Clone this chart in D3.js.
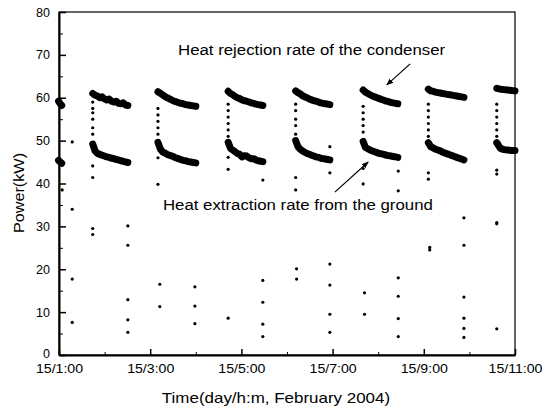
<!DOCTYPE html>
<html>
<head>
<meta charset="utf-8">
<script src="https://cdn.jsdelivr.net/npm/d3@7"></script>
<style>
  body { margin: 0; background: #fff; }
  svg { display: block; font-family: "Liberation Sans", Arial, sans-serif; }
</style>
</head>
<body>
<div id="chart"></div>
<script>
// operating cycles of the heat pump (hours of 15 Feb 2004)
var cycleStart = [0.99, 1.74, 3.17, 4.71, 6.19, 7.67, 9.10, 10.60];
var cycleEnd   = [1.06, 2.51, 4.00, 5.47, 6.94, 8.43, 9.88, 11.00];

// heat rejection rate of the condenser, kW, evenly sampled inside each cycle
var condenser = [
  [59.2, 58.6, 58.2],
  [61.0, 60.6, 60.4, 60.0, 60.2, 59.7, 59.5, 59.7, 59.2, 59.0, 59.2, 58.7, 58.6, 58.8, 58.3, 58.2],
  [61.4, 61.0, 60.6, 60.2, 59.9, 59.6, 59.3, 59.1, 58.9, 58.7, 58.6, 58.4, 58.3, 58.2, 58.1, 58.0],
  [61.5, 61.0, 60.7, 60.3, 60.0, 59.8, 59.5, 59.3, 59.2, 59.0, 58.8, 58.7, 58.5, 58.4, 58.3, 58.2],
  [61.6, 61.2, 60.9, 60.5, 60.2, 60.0, 59.7, 59.5, 59.3, 59.2, 59.0, 58.8, 58.7, 58.6, 58.5, 58.4],
  [61.8, 61.3, 61.0, 60.7, 60.4, 60.2, 60.0, 59.8, 59.6, 59.4, 59.2, 59.1, 58.9, 58.8, 58.7, 58.6],
  [62.0, 61.6, 61.5, 61.3, 61.2, 61.1, 61.0, 60.9, 60.8, 60.7, 60.6, 60.5, 60.4, 60.3, 60.2, 60.1],
  [62.2, 62.0, 61.9, 61.8, 61.7, 61.6]
];

// heat extraction rate from the ground, kW
var ground = [
  [45.4, 45.0, 44.7],
  [49.2, 47.6, 47.0, 46.8, 46.6, 46.4, 46.2, 46.1, 45.9, 45.8, 45.6, 45.5, 45.3, 45.2, 45.0, 44.9],
  [49.6, 48.0, 47.3, 47.0, 46.7, 46.5, 46.3, 46.0, 45.8, 45.6, 45.4, 45.3, 45.1, 45.0, 44.9, 44.8],
  [49.6, 48.2, 47.8, 47.4, 47.0, 46.8, 46.2, 46.5, 46.4, 46.0, 45.8, 45.8, 45.5, 45.3, 45.2, 45.1],
  [50.0, 48.6, 48.0, 47.6, 47.3, 47.0, 46.8, 46.6, 46.4, 46.2, 46.1, 45.9, 45.8, 45.7, 45.6, 45.5],
  [49.8, 48.4, 48.1, 47.8, 47.6, 47.4, 47.2, 47.0, 46.9, 46.8, 46.6, 46.5, 46.4, 46.3, 46.2, 46.1],
  [49.5, 48.6, 48.3, 48.0, 47.8, 47.6, 47.3, 47.1, 46.9, 46.7, 46.5, 46.3, 46.1, 45.9, 45.7, 45.5],
  [49.5, 48.2, 47.9, 47.8, 47.7, 47.7]
];

// start-up samples at the beginning of each cycle
var riseValues = [
  [],
  [51.5, 53.0, 55.0, 56.5, 57.5, 59.0, 44.1, 41.4],
  [51.5, 53.0, 54.5, 56.0, 57.5, 46.0, 39.8],
  [51.0, 52.5, 54.0, 55.5, 57.0, 58.5, 46.1, 43.3],
  [51.5, 53.5, 55.0, 57.0, 58.5, 41.4, 38.5],
  [52.0, 53.5, 55.0, 56.5, 58.0, 43.5, 39.9],
  [51.0, 52.5, 54.0, 55.5, 57.0, 58.5, 42.5, 41.0],
  [51.0, 52.5, 54.0, 55.5, 57.0, 58.5, 43.1, 42.2]
];

// isolated samples while the pump is off
var offTimes = [1.07, 1.29, 1.74, 2.51, 3.21, 3.98, 4.71, 5.47, 6.21, 6.94, 7.70, 8.44, 9.13, 9.88, 10.60];
var offValues = [
  [38.5],
  [49.7, 34.0, 17.7, 7.6],
  [29.5, 28.1],
  [30.1, 25.6, 12.9, 8.2, 5.3],
  [16.5, 11.3],
  [15.9, 11.4, 7.3],
  [8.6],
  [40.8, 17.4, 12.3, 7.2, 4.3],
  [20.1, 17.7],
  [48.6, 42.5, 21.2, 16.3, 9.5, 5.3],
  [14.5, 9.5],
  [42.9, 38.3, 18.0, 13.7, 8.5, 4.3],
  [25.1, 24.5],
  [32.0, 25.6, 13.5, 8.6, 6.2, 4.1],
  [30.9, 30.6, 6.1]
];

var majorHours = [1, 3, 5, 7, 9, 11];
var minorHours = [2, 4, 6, 8, 10];
var yMajor = [0, 10, 20, 30, 40, 50, 60, 70, 80];
var yMinor = [5, 15, 25, 35, 45, 55, 65, 75];

var width = 554, height = 409;
var margin = {top: 12, right: 39, bottom: 54, left: 59};
var w = width - margin.left - margin.right;
var h = height - margin.top - margin.bottom;

var svg = d3.select("#chart").append("svg")
  .attr("width", width)
  .attr("height", height);

// the scanned lettering is wider than Arial, stretch it a bit
function widen(sel, f) {
  sel.each(function() {
    var len = this.getComputedTextLength();
    d3.select(this)
      .attr("textLength", len * f)
      .attr("lengthAdjust", "spacingAndGlyphs");
  });
}

var defs = svg.append("defs");
defs.append("marker")
  .attr("id", "arrow")
  .attr("viewBox", "0 0 10 10")
  .attr("refX", 9).attr("refY", 5)
  .attr("markerWidth", 7).attr("markerHeight", 7)
  .attr("markerUnits", "userSpaceOnUse")
  .attr("orient", "auto")
  .append("path")
  .attr("d", "M0,1L10,5L0,9z")
  .attr("fill", "#000");

var g = svg.append("g")
  .attr("transform", "translate(" + margin.left + "," + margin.top + ")");

var x = d3.scaleLinear().domain([1, 11]).range([0, w]);
var y = d3.scaleLinear().domain([0, 80]).range([h, 0]);

// frame
g.append("rect")
  .attr("width", w).attr("height", h)
  .attr("fill", "none")
  .attr("stroke", "#000")
  .attr("stroke-width", 1.2);

// bottom axis: inward ticks
var xAxis = g.append("g")
  .attr("transform", "translate(0," + h + ")")
  .call(d3.axisBottom(x).tickValues(majorHours).tickSizeInner(-6).tickSizeOuter(0).tickPadding(9)
    .tickFormat(function(d) { return "15/" + d + ":00"; }));
xAxis.select(".domain").attr("stroke-width", 2);
xAxis.selectAll(".tick line").attr("stroke-width", 1.5);
xAxis.selectAll("text").style("font-size", "12.5px").attr("fill", "#000").call(widen, 1.13);

g.append("g")
  .attr("transform", "translate(0," + h + ")")
  .call(d3.axisBottom(x).tickValues(minorHours).tickSizeInner(-3).tickSizeOuter(0).tickFormat(""))
  .select(".domain").remove();

// left axis
var yAxis = g.append("g")
  .call(d3.axisLeft(y).tickValues(yMajor).tickSizeInner(-7).tickSizeOuter(0).tickPadding(9));
yAxis.select(".domain").attr("stroke-width", 2);
yAxis.selectAll(".tick line").attr("stroke-width", 1.5);
yAxis.selectAll("text").style("font-size", "12.5px").attr("fill", "#000");
// the zero label sits a touch high in the original
yAxis.selectAll("text").filter(function(d) { return d === 0; }).attr("dy", "0.2em");

g.append("g")
  .call(d3.axisLeft(y).tickValues(yMinor).tickSizeInner(-4).tickSizeOuter(0).tickFormat(""))
  .select(".domain").remove();

// titles
svg.append("text")
  .attr("x", 276)
  .attr("y", 403)
  .attr("text-anchor", "middle")
  .style("font-size", "15px")
  .text("Time(day/h:m, February 2004)")
  .call(widen, 1.13);

svg.append("text")
  .attr("transform", "translate(24,193) rotate(-90)")
  .attr("text-anchor", "middle")
  .style("font-size", "15px")
  .text("Power(kW)")
  .call(widen, 1.08);

// dense operating bands
var line = d3.line()
  .x(function(d) { return x(d[0]); })
  .y(function(d) { return y(d[1]); });

function sampled(values, i) {
  var n = values.length;
  return values.map(function(v, j) {
    return [cycleStart[i] + (cycleEnd[i] - cycleStart[i]) * j / (n - 1), v];
  });
}

[condenser, ground].forEach(function(series) {
  g.selectAll(null)
    .data(series)
    .enter().append("path")
    .attr("d", function(d, i) { return line(sampled(d, i)); })
    .attr("fill", "none")
    .attr("stroke", "#000")
    .attr("stroke-width", 7)
    .attr("stroke-linejoin", "round")
    .attr("stroke-linecap", "round");
});

// start-up samples
riseValues.forEach(function(vals, i) {
  g.selectAll(null)
    .data(vals)
    .enter().append("circle")
    .attr("cx", x(cycleStart[i]))
    .attr("cy", function(d) { return y(d); })
    .attr("r", 1.6)
    .attr("fill", "#000");
});

// off-period samples
offValues.forEach(function(vals, i) {
  g.selectAll(null)
    .data(vals)
    .enter().append("circle")
    .attr("cx", x(offTimes[i]))
    .attr("cy", function(d) { return y(d); })
    .attr("r", 1.6)
    .attr("fill", "#000");
});

// annotations
g.append("text")
  .attr("x", x(3.61)).attr("y", y(70))
  .style("font-size", "14px")
  .text("Heat rejection rate of the condenser")
  .call(widen, 1.2);
g.append("line")
  .attr("x1", x(8.70)).attr("y1", y(67.9))
  .attr("x2", x(8.19)).attr("y2", y(63.0))
  .attr("stroke", "#000").attr("stroke-width", 1.2)
  .attr("marker-end", "url(#arrow)");

g.append("text")
  .attr("x", x(3.28)).attr("y", y(33.8))
  .style("font-size", "14px")
  .text("Heat extraction rate from the ground")
  .call(widen, 1.2);
g.append("line")
  .attr("x1", x(7.05)).attr("y1", y(38.0))
  .attr("x2", x(7.78)).attr("y2", y(45.0))
  .attr("stroke", "#000").attr("stroke-width", 1.2)
  .attr("marker-end", "url(#arrow)");
</script>
</body>
</html>
